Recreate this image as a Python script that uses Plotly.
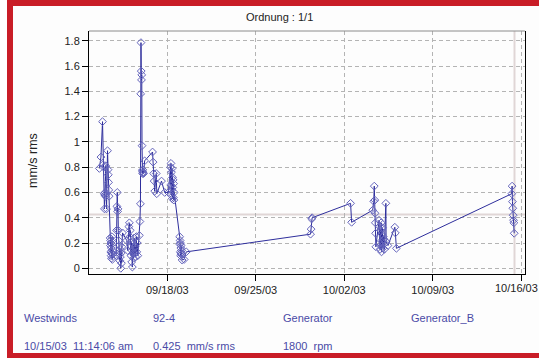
import plotly.graph_objects as go

# ---------------- data ----------------
times = [
    # cluster 09/12-09/13
    "2003-09-12 15:00", "2003-09-12 18:00", "2003-09-12 21:00", "2003-09-12 22:00", "2003-09-12 23:00",
    "2003-09-13 00:00", "2003-09-13 00:40", "2003-09-13 01:20", "2003-09-13 02:00", "2003-09-13 02:40",
    "2003-09-13 03:20", "2003-09-13 04:00", "2003-09-13 04:40", "2003-09-13 06:30", "2003-09-13 07:30",
    "2003-09-13 08:00", "2003-09-13 08:30", "2003-09-13 09:00", "2003-09-13 09:30", "2003-09-13 11:30",
    "2003-09-13 12:00", "2003-09-13 12:20", "2003-09-13 12:40", "2003-09-13 13:00", "2003-09-13 13:20",
    "2003-09-13 13:40", "2003-09-13 14:00", "2003-09-13 14:20", "2003-09-13 14:40", "2003-09-13 15:00",
    "2003-09-13 15:20", "2003-09-13 15:40", "2003-09-13 16:00",
    # cluster 09/14
    "2003-09-13 23:00", "2003-09-13 23:40", "2003-09-14 00:20", "2003-09-14 01:00", "2003-09-14 01:40",
    "2003-09-14 02:20", "2003-09-14 03:00", "2003-09-14 03:40", "2003-09-14 04:20", "2003-09-14 05:00",
    "2003-09-14 05:40", "2003-09-14 06:20", "2003-09-14 07:00", "2003-09-14 07:40", "2003-09-14 08:20",
    "2003-09-14 09:00", "2003-09-14 09:40", "2003-09-14 11:00",
    # cluster 09/15
    "2003-09-14 19:00", "2003-09-14 21:00", "2003-09-14 23:00", "2003-09-15 00:00", "2003-09-15 01:00",
    "2003-09-15 01:40", "2003-09-15 02:20", "2003-09-15 03:00", "2003-09-15 03:40", "2003-09-15 04:20",
    "2003-09-15 05:00", "2003-09-15 05:40", "2003-09-15 06:20", "2003-09-15 07:00", "2003-09-15 08:00",
    "2003-09-15 09:00", "2003-09-15 10:00", "2003-09-15 11:00", "2003-09-15 12:00", "2003-09-15 13:00",
    "2003-09-15 14:00", "2003-09-15 15:00", "2003-09-15 16:00",
    # spike 09/15-09/16
    "2003-09-15 19:00", "2003-09-15 20:00", "2003-09-15 21:00", "2003-09-15 21:30", "2003-09-15 22:00",
    "2003-09-15 22:30", "2003-09-15 23:00", "2003-09-15 23:30", "2003-09-16 00:00", "2003-09-16 00:30",
    "2003-09-16 01:00", "2003-09-16 01:30", "2003-09-16 02:00", "2003-09-16 03:00", "2003-09-16 05:00",
    "2003-09-16 20:00", "2003-09-16 21:00", "2003-09-16 22:00", "2003-09-16 23:00", "2003-09-17 00:00",
    "2003-09-17 03:00", "2003-09-17 04:00", "2003-09-17 13:00", "2003-09-17 19:00", "2003-09-18 02:00",
    # cluster 09/18
    "2003-09-18 06:00", "2003-09-18 06:30", "2003-09-18 07:00", "2003-09-18 07:30", "2003-09-18 08:00",
    "2003-09-18 08:30", "2003-09-18 09:00", "2003-09-18 09:30", "2003-09-18 10:00", "2003-09-18 10:30",
    "2003-09-18 11:00", "2003-09-18 11:30", "2003-09-18 12:00", "2003-09-18 12:30", "2003-09-18 13:00",
    # cluster 09/19
    "2003-09-18 23:30", "2003-09-19 00:00", "2003-09-19 00:20", "2003-09-19 00:40", "2003-09-19 01:00",
    "2003-09-19 01:20", "2003-09-19 01:40", "2003-09-19 02:00", "2003-09-19 02:20", "2003-09-19 02:40",
    "2003-09-19 03:00", "2003-09-19 04:00", "2003-09-19 08:00", "2003-09-19 12:00",
    # 09/29 - 10/02
    "2003-09-29 08:00", "2003-09-29 09:00", "2003-09-29 10:00", "2003-09-29 11:00",
    "2003-10-02 12:00", "2003-10-02 14:00",
    # cluster 10/04-10/06
    "2003-10-04 06:00", "2003-10-04 08:00", "2003-10-04 09:00", "2003-10-04 10:00", "2003-10-04 10:30",
    "2003-10-04 11:00", "2003-10-04 11:30", "2003-10-04 12:00",
    "2003-10-04 18:00", "2003-10-04 18:40", "2003-10-04 19:20", "2003-10-04 20:00", "2003-10-04 20:40",
    "2003-10-04 21:20", "2003-10-04 22:00", "2003-10-04 22:40", "2003-10-04 23:20", "2003-10-05 00:00",
    "2003-10-05 00:40", "2003-10-05 01:20", "2003-10-05 02:00", "2003-10-05 02:40", "2003-10-05 03:20",
    "2003-10-05 04:00", "2003-10-05 07:00", "2003-10-05 07:30", "2003-10-05 11:00", "2003-10-06 00:00",
    "2003-10-06 01:00", "2003-10-06 03:00",
    # cluster 10/15
    "2003-10-15 06:00", "2003-10-15 06:40", "2003-10-15 07:20", "2003-10-15 08:00", "2003-10-15 08:40",
    "2003-10-15 09:20", "2003-10-15 10:00", "2003-10-15 10:40",
]

values = [
    0.79, 0.88, 1.16, 0.82, 0.80,
    0.59, 0.47, 0.58, 0.60, 0.57,
    0.81, 0.59, 0.47, 0.93, 0.78,
    0.74, 0.68, 0.62, 0.57, 0.24,
    0.18, 0.22, 0.13, 0.20, 0.10,
    0.16, 0.08, 0.19, 0.12, 0.25,
    0.14, 0.07, 0.11,
    0.10, 0.30, 0.49, 0.60, 0.45,
    0.47, 0.30, 0.22, 0.12, 0.18,
    0.06, 0.15, 0.09, 0.00, 0.12,
    0.04, 0.17, 0.28,
    0.22, 0.14, 0.33, 0.36, 0.25,
    0.30, 0.18, 0.10, 0.21, 0.05,
    0.14, 0.01, 0.12, 0.19, 0.08,
    0.24, 0.12, 0.17, 0.09, 0.25,
    0.13, 0.20, 0.10,
    0.26, 0.37, 0.51, 1.38, 1.785,
    1.56, 1.49, 1.53, 0.97, 0.77,
    0.75, 0.78, 0.76, 0.75, 0.85,
    0.92, 0.84, 0.75, 0.69, 0.61,
    0.75, 0.59, 0.69, 0.60, 0.60,
    0.80, 0.66, 0.83, 0.58, 0.76,
    0.62, 0.79, 0.55, 0.72, 0.64,
    0.70, 0.56, 0.67, 0.54, 0.60,
    0.25, 0.19, 0.22, 0.13, 0.20,
    0.10, 0.16, 0.12, 0.18, 0.11,
    0.14, 0.066, 0.07, 0.13,
    0.27, 0.31, 0.39, 0.40,
    0.514, 0.364,
    0.46, 0.53, 0.65, 0.54, 0.435,
    0.36, 0.277, 0.17,
    0.38, 0.20, 0.33, 0.15, 0.30,
    0.18, 0.36, 0.13, 0.27, 0.21,
    0.32, 0.16, 0.25, 0.19, 0.23,
    0.15, 0.514, 0.21, 0.18, 0.325,
    0.28, 0.158,
    0.59, 0.65, 0.527, 0.475, 0.42,
    0.38, 0.36, 0.277,
]

x_tick_vals = ["2003-09-18", "2003-09-25", "2003-10-02", "2003-10-09", "2003-10-16"]
x_tick_text = ["09/18/03", "09/25/03", "10/02/03", "10/09/03", "10/16/03"]

cursor_time = "2003-10-15 11:14:06"
cursor_value = 0.425

title_text = "Ordnung : 1/1"
y_label = "mm/s rms"
info_row1 = ["Westwinds", "92-4", "Generator", "Generator_B"]
info_row2 = ["10/15/03\u00a0\u00a011:14:06 am", "0.425\u00a0\u00a0mm/s rms", "1800\u00a0\u00a0rpm"]

# ---------------- layout geometry (pixels) ----------------
W, H = 539, 358
L, R, T, B = 89, 525, 31, 274   # plot area edges in pixels


def px(x):
    return (x - L) / (R - L)


def py(y):
    return (B - y) / (B - T)


fig = go.Figure()
fig.add_trace(go.Scatter(
    x=times, y=values, mode="lines+markers",
    line=dict(color="#2e2e9c", width=1),
    marker=dict(symbol="diamond-open", size=6, color="#6464bc", line=dict(width=1)),
    hoverinfo="skip", showlegend=False,
))

font_family = "Liberation Sans, Arial, sans-serif"
axis_font = dict(family=font_family, size=11, color="#222222")
grid_col = "#b4b4b4"

# the last tick label sits against the right edge, so it is placed as an annotation
shown_tick_text = x_tick_text[:-1] + [""]

fig.update_layout(
    width=W, height=H,
    margin=dict(l=L, r=W - R, t=T, b=H - B, pad=0, autoexpand=False),
    paper_bgcolor="#fdfdfd", plot_bgcolor="#fdfdfd",
    showlegend=False,
    xaxis=dict(
        type="date", range=["2003-09-11 19:20", "2003-10-16 07:10"],
        tickmode="array", tickvals=x_tick_vals, ticktext=shown_tick_text,
        ticklabeloverflow="allow", automargin=False,
        ticks="outside", ticklen=6, tickcolor="#000000", tickwidth=1,
        showline=True, linecolor="#000000", linewidth=1, mirror=False,
        showgrid=True, gridcolor=grid_col, griddash="4px,3px", gridwidth=1,
        zeroline=False, tickfont=axis_font,
    ),
    yaxis=dict(
        range=[-0.045, 1.877], tick0=0, dtick=0.2, automargin=False,
        ticks="outside", ticklen=6, tickcolor="#000000", tickwidth=1,
        showline=True, linecolor="#000000", linewidth=1, mirror=True,
        showgrid=True, gridcolor=grid_col, griddash="4px,3px", gridwidth=1,
        zeroline=False, tickfont=axis_font,
    ),
)

red = "#c91d27"
shapes = [
    # red frame
    dict(type="rect", xref="paper", yref="paper", x0=px(7), x1=px(13), y0=py(358), y1=py(0),
         fillcolor=red, line=dict(width=0), layer="above"),
    dict(type="rect", xref="paper", yref="paper", x0=px(7), x1=px(W), y0=py(6), y1=py(0),
         fillcolor=red, line=dict(width=0), layer="above"),
    dict(type="rect", xref="paper", yref="paper", x0=px(7), x1=px(W), y0=py(358), y1=py(353),
         fillcolor=red, line=dict(width=0), layer="above"),
    dict(type="rect", xref="paper", yref="paper", x0=px(0), x1=px(7), y0=py(358), y1=py(0),
         fillcolor="#ffffff", line=dict(width=0), layer="above"),
    # top border of plot (gray)
    dict(type="line", xref="paper", yref="paper", x0=0, x1=1, y0=1, y1=1,
         line=dict(color="#8c8c8c", width=1), layer="above"),
    # cursor lines
    dict(type="line", xref="x", yref="paper", x0=cursor_time, x1=cursor_time, y0=0, y1=1,
         line=dict(color="#e0d6d6", width=2), layer="between"),
    dict(type="line", xref="paper", yref="y", x0=0, x1=1, y0=cursor_value, y1=cursor_value,
         line=dict(color="#e0d6d6", width=2), layer="between"),
]
fig.update_layout(shapes=shapes)

info_font = dict(family=font_family, size=11, color="#4a4aa6")
annotations = [
    dict(text=title_text, xref="paper", yref="paper", x=px(279), y=py(17),
         xanchor="center", yanchor="middle", showarrow=False,
         font=dict(family=font_family, size=11, color="#222222")),
    dict(text=y_label, xref="paper", yref="paper", x=px(32.5), y=py(160.5),
         xanchor="center", yanchor="middle", showarrow=False, textangle=-90,
         font=dict(family=font_family, size=12.5, color="#222222")),
    dict(text=x_tick_text[-1], xref="paper", yref="paper", x=px(539), y=py(288),
         xanchor="right", yanchor="middle", showarrow=False, borderpad=0,
         font=axis_font),
]
row1_x = [22, 150.7, 280.7, 409]
for t, xx in zip(info_row1, row1_x):
    annotations.append(dict(text=t, xref="paper", yref="paper", x=px(xx), y=py(318.3),
                            xanchor="left", yanchor="middle", showarrow=False, font=info_font))
row2_x = [22, 150.7, 280.7]
for t, xx in zip(info_row2, row2_x):
    annotations.append(dict(text=t, xref="paper", yref="paper", x=px(xx), y=py(345.7),
                            xanchor="left", yanchor="middle", showarrow=False, font=info_font))
fig.update_layout(annotations=annotations)

fig.write_html("out.html")
